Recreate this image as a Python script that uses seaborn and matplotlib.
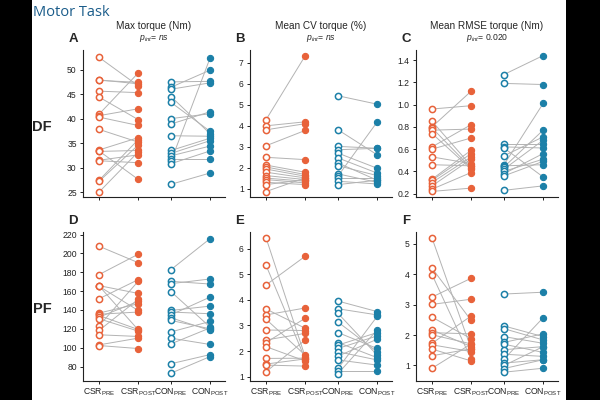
import seaborn as sns
import matplotlib.pyplot as plt
import matplotlib.patches as mpatches
import numpy as np
import pandas as pd

# --- data ---
labels = ['CSR$_\\mathregular{PRE}$', 'CSR$_\\mathregular{POST}$', 'CON$_\\mathregular{PRE}$', 'CON$_\\mathregular{POST}$']
titles = ['Max torque (Nm)', 'Mean CV torque (%)', 'Mean RMSE torque (Nm)']
p_int = ['ns', 'ns', '0.020']

A_csr_pre  = [52.5, 47.9, 47.8, 45.6, 44.4, 40.9, 40.6, 40.3, 37.8, 33.6, 33.4, 33.3, 31.5, 31.4, 27.4, 27.2, 25.0]
A_csr_post = [46.7, 47.1, 47.4, 45.3, 39.8, 49.3, 42.0, 38.6, 35.2, 36.1, 27.6, 33.5, 32.6, 31.0, 35.7, 34.6, 33.2]
A_con_pre  = [47.5, 46.4, 46.0, 44.5, 43.3, 40.0, 38.9, 36.5, 33.5, 32.9, 32.4, 31.8, 31.3, 30.8, 26.6]
A_con_post = [47.6, 49.9, 47.3, 36.9, 37.4, 41.0, 41.4, 36.4, 36.0, 35.5, 34.4, 31.8, 52.4, 33.4, 28.9]

B_csr_pre  = [4.28, 3.99, 3.80, 3.04, 2.49, 2.12, 2.03, 1.93, 1.78, 1.62, 1.50, 1.43, 1.30, 1.19, 0.86]
B_csr_post = [7.32, 4.18, 4.09, 3.77, 2.38, 1.78, 1.67, 1.59, 1.51, 1.43, 1.35, 1.27, 1.19, 1.43, 1.51]
B_con_pre  = [5.42, 3.80, 3.01, 2.85, 2.69, 2.46, 2.22, 2.09, 1.70, 1.60, 1.51, 1.35, 1.19]
B_con_post = [5.02, 2.61, 2.92, 2.92, 1.97, 1.74, 1.40, 1.62, 1.30, 4.17, 1.51, 1.22, 1.40]

C_csr_pre  = [0.96, 0.85, 0.80, 0.79, 0.77, 0.74, 0.62, 0.60, 0.53, 0.46, 0.33, 0.32, 0.30, 0.27, 0.24, 0.22]
C_csr_post = [0.99, 0.45, 1.12, 0.43, 0.78, 0.42, 0.82, 0.70, 0.47, 0.45, 0.59, 0.56, 0.53, 0.51, 0.39, 0.25]
C_con_pre  = [1.27, 1.19, 0.65, 0.62, 0.61, 0.54, 0.46, 0.45, 0.44, 0.42, 0.40, 0.38, 0.36, 0.23]
C_con_post = [1.44, 1.18, 0.65, 0.61, 0.35, 0.71, 1.01, 0.46, 0.77, 0.68, 0.51, 0.56, 0.49, 0.27]

D_csr_pre  = [207.6, 177.5, 165.8, 165.5, 165.1, 151.9, 136.7, 135.5, 134.2, 132.4, 130.7, 123.2, 118.3, 113.7, 103.0, 102.3]
D_csr_post = [190.2, 199.1, 157.6, 119.0, 139.5, 172.1, 146.6, 137.8, 119.3, 149.1, 117.6, 170.4, 151.2, 111.9, 110.1, 99.1]
D_con_pre  = [182.8, 170.4, 167.9, 159.4, 139.5, 137.8, 134.9, 131.7, 128.9, 116.8, 110.1, 104.1, 83.0, 73.0]
D_con_post = [215.7, 167.5, 172.9, 121.8, 144.1, 136.0, 153.7, 118.3, 120.0, 127.8, 103.4, 121.0, 92.7, 90.6]

E_csr_pre  = [6.42, 5.35, 4.58, 3.64, 3.41, 3.24, 2.82, 2.43, 2.33, 2.17, 1.71, 1.49, 1.45, 1.19]
E_csr_post = [1.78, 1.69, 5.70, 2.89, 3.68, 1.84, 2.80, 2.69, 3.28, 1.61, 1.72, 1.69, 1.41, 2.43]
E_con_pre  = [3.95, 3.65, 3.47, 3.13, 2.72, 2.33, 2.23, 2.10, 1.97, 1.80, 1.65, 1.32, 1.20, 1.12]
E_con_post = [3.54, 3.41, 1.84, 1.97, 2.10, 1.74, 2.72, 2.59, 1.65, 2.46, 1.45, 3.35, 1.20, 2.82]

F_csr_pre  = [5.19, 4.20, 3.99, 3.25, 3.01, 2.59, 2.17, 2.08, 2.01, 1.73, 1.68, 1.54, 1.32, 0.91]
F_csr_post = [1.55, 2.48, 1.21, 3.87, 3.18, 1.88, 1.62, 2.04, 1.71, 2.63, 1.46, 1.15, 1.55, 1.71]
F_con_pre  = [3.35, 2.30, 2.21, 1.95, 1.76, 1.70, 1.52, 1.37, 1.21, 1.08, 1.00, 0.90, 0.78]
F_con_post = [3.41, 1.95, 1.84, 1.73, 2.04, 1.43, 1.62, 1.30, 2.57, 1.19, 1.62, 1.19, 0.91]

panels = [
    ('A', A_csr_pre, A_csr_post, A_con_pre, A_con_post, (24, 54), np.arange(25, 51, 5), '{:.0f}'),
    ('B', B_csr_pre, B_csr_post, B_con_pre, B_con_post, (0.6, 7.6), np.arange(1, 8), '{:.0f}'),
    ('C', C_csr_pre, C_csr_post, C_con_pre, C_con_post, (0.17, 1.49), np.arange(0.2, 1.41, 0.2), '{:.1f}'),
    ('D', D_csr_pre, D_csr_post, D_con_pre, D_con_post, (65, 223), np.arange(80, 221, 20), '{:.0f}'),
    ('E', E_csr_pre, E_csr_post, E_con_pre, E_con_post, (0.84, 6.66), np.arange(1, 7), '{:.0f}'),
    ('F', F_csr_pre, F_csr_post, F_con_pre, F_con_post, (0.5, 5.4), np.arange(1, 6), '{:.0f}'),
]

xpos = [0, 1, 1.84, 2.84]
col = {'CSR': '#E8623A', 'CON': '#1C80A8'}


def long_df(csr_pre, csr_post, con_pre, con_post):
    rows = []
    for g, pre, post, i0 in [('CSR', csr_pre, csr_post, 0), ('CON', con_pre, con_post, 2)]:
        for i, (a, b) in enumerate(zip(pre, post)):
            rows.append(dict(subj=f'{g}{i}', group=g, time='PRE', x=xpos[i0], value=a))
            rows.append(dict(subj=f'{g}{i}', group=g, time='POST', x=xpos[i0 + 1], value=b))
    return pd.DataFrame(rows)


sns.set_theme(style='ticks')
plt.rcParams['font.family'] = ['Liberation Sans', 'DejaVu Sans']
plt.rcParams['mathtext.fontset'] = 'custom'
plt.rcParams['mathtext.rm'] = 'Liberation Sans'
plt.rcParams['mathtext.it'] = 'Liberation Sans:italic'

fig = plt.figure(figsize=(6, 4), dpi=100, facecolor='black')
# white page between the black side bars
fig.patches.append(mpatches.Rectangle((32 / 600, 0), (566 - 32) / 600, 1, transform=fig.transFigure,
                                      facecolor='white', edgecolor='none', zorder=-10))

fig.text(33 / 600, 1 - 12 / 400, 'Motor Task', color='#1a5c8a', fontsize=10.5,
         family=['Open Sans', 'DejaVu Sans'], va='center', ha='left')

lefts = [83, 250, 416]
tops = [50, 231.7]
bots = [197, 380.7]
W = 142

for k, (letter, cpre, cpost, npre, npost, ylim, yt, fmt) in enumerate(panels):
    r, c = divmod(k, 3)
    ax = fig.add_axes([lefts[c] / 600, 1 - bots[r] / 400, W / 600, (bots[r] - tops[r]) / 400])
    ax.set_zorder(2)
    ax.set_facecolor('white')
    df = long_df(cpre, cpost, npre, npost)
    sns.lineplot(data=df, x='x', y='value', units='subj', estimator=None, color='#b3b3b3',
                 lw=0.7, sort=False, ax=ax, legend=False, zorder=1)
    for g in ['CSR', 'CON']:
        d = df[df.group == g]
        sns.scatterplot(data=d[d.time == 'PRE'], x='x', y='value', color=col[g], facecolor='white',
                        edgecolor=col[g], linewidth=1.1, s=20, ax=ax, zorder=3)
        sns.scatterplot(data=d[d.time == 'POST'], x='x', y='value', color=col[g],
                        edgecolor=col[g], linewidth=0.8, s=20, ax=ax, zorder=3)
    ax.set_xlim(-0.41, 3.22)
    ax.set_ylim(*ylim)
    ax.set_yticks(yt)
    ax.set_yticklabels([fmt.format(v) for v in yt])
    ax.set_xticks(xpos)
    ax.set_xticklabels(labels if r == 1 else [])
    ax.set_xlabel('')
    ax.set_ylabel('')
    ax.tick_params(axis='both', labelsize=6.2, length=2.5, width=0.7, pad=2, colors='#222222')
    sns.despine(ax=ax)
    for s in ['left', 'bottom']:
        ax.spines[s].set_linewidth(0.8)
        ax.spines[s].set_color('#222222')
    # panel letter
    fig.text((lefts[c] - 10) / 600, 1 - (tops[r] - 11) / 400, letter, fontsize=9.5,
             fontweight='bold', ha='center', va='center')
    if r == 0:
        cx = (lefts[c] + W / 2) / 600
        fig.text(cx, 1 - 26 / 400, titles[c], fontsize=7.2, ha='center', va='center')
        fig.text(cx, 1 - 38 / 400, '$\\mathit{p}_{\\mathit{int}}$= $\\mathit{' + p_int[c] + '}$',
                 fontsize=6.2, ha='center', va='center')

fig.text(42 / 600, 1 - 127 / 400, 'DF', fontsize=10.5, fontweight='bold', ha='center', va='center')
fig.text(42 / 600, 1 - 309 / 400, 'PF', fontsize=10.5, fontweight='bold', ha='center', va='center')

fig.savefig('out.png', dpi=100, facecolor=fig.get_facecolor())
